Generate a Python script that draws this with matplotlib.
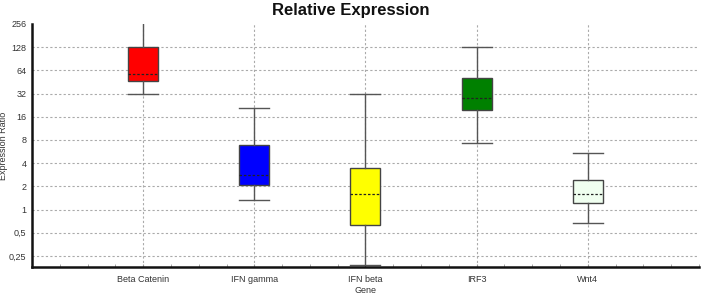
import numpy as np
import matplotlib.pyplot as plt
from matplotlib.ticker import FixedLocator, NullFormatter, MultipleLocator

plt.rcParams['font.family'] = ['Liberation Sans', 'DejaVu Sans']

genes = ['Beta Catenin', 'IFN gamma', 'IFN beta', 'IRF3', 'Wnt4']
whis_lo = [32, 1.35, 0.19, 7.4, 0.68]
q1 = [47, 2.1, 0.64, 19.8, 1.2]
med = [58, 2.8, 1.57, 28.4, 1.6]
q3 = [128, 6.8, 3.5, 51.6, 2.4]
whis_hi = [280, 21, 32, 128, 5.5]
colors = ['#ff0000', '#0000ff', '#ffff00', '#008000', '#f0fff0']

yticks = [0.25, 0.5, 1, 2, 4, 8, 16, 32, 64, 128, 256]
ylabels = ['0,25', '0,5', '1', '2', '4', '8', '16', '32', '64', '128', '256']

fig = plt.figure(figsize=(7.02, 2.96), dpi=100)
ax = fig.add_axes([0.0456, 0.098, 0.95, 0.821])

stats = []
for i, g in enumerate(genes):
    stats.append(dict(label=g, whislo=whis_lo[i], q1=q1[i], med=med[i],
                      q3=q3[i], whishi=whis_hi[i], fliers=[]))

pos = np.arange(1, len(genes) + 1)
bp = ax.bxp(stats, positions=pos, widths=0.27, patch_artist=True,
            showfliers=False,
            boxprops=dict(edgecolor='#444444', linewidth=1.0),
            whiskerprops=dict(color='#555555', linewidth=1.0),
            capprops=dict(color='#555555', linewidth=1.0),
            medianprops=dict(color='#222222', linewidth=0.9, linestyle=(0, (2, 1.5))),
            capwidths=0.27)
for patch, c in zip(bp['boxes'], colors):
    patch.set_facecolor(c)

ax.set_yscale('log', base=2)
ax.set_ylim(0.18, 256)
ax.set_xlim(0, 6)
ax.yaxis.set_major_locator(FixedLocator(yticks))
ax.set_yticklabels(ylabels)
ax.yaxis.set_minor_formatter(NullFormatter())
ax.yaxis.set_minor_locator(FixedLocator([]))
ax.set_xticks(pos)
ax.set_xticklabels(genes)
ax.xaxis.set_minor_locator(MultipleLocator(0.25))

ax.tick_params(axis='both', labelsize=6.5, colors='#333333')
ax.tick_params(axis='y', length=0, pad=4)
ax.tick_params(axis='x', which='both', direction='in', length=2, pad=6, color='#999999')

for sp in ['top', 'right']:
    ax.spines[sp].set_visible(False)
for sp in ['left', 'bottom']:
    ax.spines[sp].set_linewidth(1.8)
    ax.spines[sp].set_color('#111111')

ax.grid(True, which='major', color='#aaaaaa', linestyle=(0, (2, 2)), linewidth=0.8)
ax.yaxis.get_gridlines()[-1].set_visible(False)
ax.set_axisbelow(True)

ax.set_xlabel('Gene', fontsize=6.5, color='#333333', labelpad=1)
ax.set_ylabel('Expression Ratio', fontsize=6.5, color='#333333')
ax.yaxis.set_label_coords(-0.036, 0.5)
fig.text(0.5, 0.965, 'Relative Expression', ha='center', va='center',
         fontsize=12, fontweight='bold', color='#111111')

fig.savefig('out.png', dpi=100)
